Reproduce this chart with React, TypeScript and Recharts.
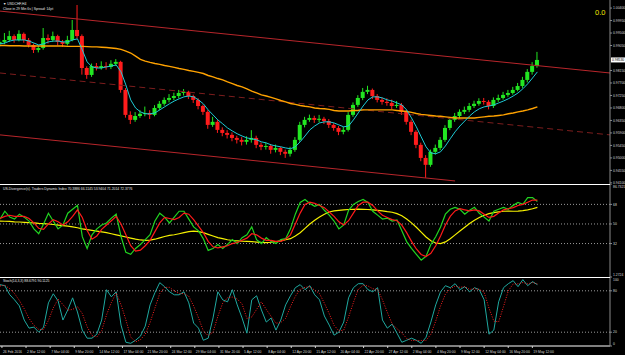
import { ComposedChart, Bar, Line, XAxis, YAxis, ReferenceLine } from "recharts";

// USDCHF H4 candles (one entry per drawn candle)
const firstOpen = 0.991;
const closes = [
  0.9918, 0.9925, 0.9939, 0.9925, 0.9947, 0.9925, 0.9907, 0.9889, 0.9896, 0.9932,
  0.9925, 0.9939, 0.9918, 0.9911, 0.9925, 0.9961, 0.9939, 0.9824, 0.9799, 0.9831,
  0.9824, 0.9831, 0.9828, 0.9839, 0.9846, 0.9745, 0.9655, 0.9637, 0.9651, 0.9659,
  0.9662, 0.9655, 0.968, 0.9695, 0.9709, 0.9716, 0.9723, 0.9734, 0.9738, 0.9723,
  0.9709, 0.9687, 0.9666, 0.9619, 0.963, 0.9601, 0.959, 0.9583, 0.9572, 0.9565,
  0.9558, 0.9565, 0.9572, 0.9547, 0.954, 0.9543, 0.9529, 0.9536, 0.9522, 0.9515,
  0.9529, 0.9565, 0.9619, 0.9637, 0.9644, 0.9637, 0.9641, 0.9633, 0.9619, 0.9608,
  0.9594, 0.9601, 0.9655, 0.9691, 0.9716, 0.9738, 0.9745, 0.9723, 0.9709, 0.9702,
  0.9698, 0.9687, 0.9691, 0.9666, 0.963, 0.9594, 0.9547, 0.95, 0.9475, 0.9522,
  0.9536, 0.9565, 0.9608, 0.9637, 0.9651, 0.9666, 0.9673, 0.9687, 0.9695, 0.9705,
  0.9702, 0.9687, 0.9709, 0.9716, 0.9727, 0.9734, 0.9745, 0.9759, 0.9781, 0.981,
  0.9831, 0.9853,
];
const highs = [
  0.993, 0.995, 0.9958, 0.9945, 0.996, 0.9952, 0.9932, 0.9912, 0.9905, 0.9968,
  0.9945, 0.9955, 0.9944, 0.9925, 0.994, 0.9997, 1.0051, 0.9945, 0.983, 0.984,
  0.9842, 0.9848, 0.9845, 0.9852, 0.9856, 0.985, 0.9752, 0.9668, 0.9665, 0.9672,
  0.9685, 0.9672, 0.969, 0.9705, 0.9718, 0.973, 0.9735, 0.9745, 0.9748, 0.9742,
  0.9728, 0.9715, 0.9692, 0.9672, 0.9648, 0.9636, 0.961, 0.96, 0.9592, 0.958,
  0.9575, 0.9578, 0.96, 0.958, 0.9556, 0.9555, 0.955, 0.9548, 0.954, 0.953,
  0.954, 0.9575, 0.963, 0.9648, 0.9656, 0.9652, 0.9655, 0.9648, 0.964, 0.9625,
  0.9615, 0.9612, 0.9665, 0.97, 0.9726, 0.9752, 0.976, 0.975, 0.973, 0.9718,
  0.9715, 0.971, 0.9705, 0.9698, 0.9672, 0.9638, 0.96, 0.9555, 0.951, 0.953,
  0.9548, 0.9575, 0.9618, 0.9646, 0.9662, 0.9675, 0.9685, 0.9698, 0.9706, 0.9715,
  0.9716, 0.9708, 0.9718, 0.9728, 0.9738, 0.9745, 0.9756, 0.977, 0.9792, 0.982,
  0.9845, 0.9882,
];
const lows = [
  0.99, 0.991, 0.9918, 0.9915, 0.992, 0.9915, 0.9898, 0.9878, 0.988, 0.989,
  0.9912, 0.9918, 0.9905, 0.99, 0.9905, 0.992, 0.993, 0.98, 0.9785, 0.9792,
  0.9815, 0.9818, 0.9818, 0.982, 0.9832, 0.9735, 0.9645, 0.9622, 0.963, 0.9644,
  0.965, 0.964, 0.965, 0.9672, 0.9688, 0.97, 0.9708, 0.9715, 0.9725, 0.9712,
  0.9698, 0.9675, 0.9655, 0.9605, 0.9612, 0.959, 0.9578, 0.957, 0.956, 0.9552,
  0.9545, 0.9548, 0.9555, 0.9535, 0.9528, 0.953, 0.9515, 0.952, 0.951, 0.95,
  0.9505, 0.9522, 0.9558, 0.961, 0.963, 0.9626, 0.9628, 0.9622, 0.9608, 0.9598,
  0.9582, 0.9585, 0.9595, 0.9648, 0.9684, 0.9708, 0.973, 0.9712, 0.97, 0.9692,
  0.9688, 0.9676, 0.968, 0.9655, 0.962, 0.9582, 0.9535, 0.9488, 0.9428, 0.9468,
  0.9512, 0.9528, 0.9558, 0.96, 0.963, 0.9642, 0.9658, 0.9665, 0.968, 0.9688,
  0.9692, 0.9675, 0.968, 0.9702, 0.971, 0.972, 0.9728, 0.974, 0.9752, 0.9772,
  0.98, 0.9825,
];
// cyan fast MA and orange slow MA
const fastMa = [
  0.9911, 0.9914, 0.9921, 0.9925, 0.9925, 0.9925, 0.9921, 0.9914, 0.9907, 0.9911,
  0.9918, 0.9921, 0.9921, 0.9918, 0.9918, 0.9925, 0.9929, 0.9889, 0.9846, 0.9828,
  0.9824, 0.9824, 0.9828, 0.9831, 0.9835, 0.981, 0.9763, 0.9709, 0.968, 0.9666,
  0.9659, 0.9659, 0.9662, 0.9673, 0.9684, 0.9695, 0.9705, 0.9713, 0.972, 0.9723,
  0.972, 0.9709, 0.9695, 0.9673, 0.9655, 0.9637, 0.9623, 0.9608, 0.9597, 0.9587,
  0.9579, 0.9572, 0.9569, 0.9565, 0.9558, 0.9554, 0.9547, 0.9543, 0.954, 0.9536,
  0.9533, 0.954, 0.9558, 0.9579, 0.9601, 0.9615, 0.9626, 0.963, 0.963, 0.9626,
  0.9619, 0.9612, 0.9615, 0.9637, 0.9662, 0.9687, 0.9709, 0.972, 0.972, 0.9716,
  0.9709, 0.9705, 0.9698, 0.9691, 0.9673, 0.9644, 0.9612, 0.9576, 0.954, 0.9518,
  0.9515, 0.9522, 0.9543, 0.9569, 0.9594, 0.9615, 0.9633, 0.9651, 0.9666, 0.9677,
  0.9684, 0.9687, 0.9691, 0.9698, 0.9705, 0.9713, 0.9723, 0.9734, 0.9749, 0.9767,
  0.9788, 0.981,
];
const slowMa = [
  0.9905, 0.9905, 0.9904, 0.9904, 0.9904, 0.9903, 0.9903, 0.9903, 0.9903, 0.9903,
  0.9903, 0.9903, 0.9903, 0.9903, 0.9902, 0.9902, 0.9902, 0.9902, 0.9901, 0.99,
  0.99, 0.9899, 0.9898, 0.9896, 0.9894, 0.9891, 0.9885, 0.9878, 0.9867, 0.9855,
  0.9849, 0.9844, 0.984, 0.9837, 0.9833, 0.983, 0.9826, 0.9822, 0.9819, 0.9815,
  0.9812, 0.9808, 0.9804, 0.9797, 0.9792, 0.9786, 0.9781, 0.9774, 0.9768, 0.9761,
  0.9756, 0.9749, 0.9741, 0.9734, 0.9727, 0.9723, 0.9718, 0.9713, 0.9707, 0.9702,
  0.9696, 0.9693, 0.9689, 0.9686, 0.9684, 0.968, 0.9678, 0.9677, 0.9675, 0.9671,
  0.9669, 0.9669, 0.9669, 0.9671, 0.9671, 0.9673, 0.9673, 0.9673, 0.9673, 0.9673,
  0.9673, 0.9673, 0.9671, 0.9669, 0.9667, 0.9664, 0.966, 0.9657, 0.9655, 0.9653,
  0.9651, 0.965, 0.9648, 0.9646, 0.9644, 0.9644, 0.9644, 0.9644, 0.9644, 0.9646,
  0.9648, 0.965, 0.9651, 0.9653, 0.9655, 0.9659, 0.9662, 0.9666, 0.9669, 0.9673,
  0.9678, 0.9684,
];
// Traders Dynamic Index: price line (green), signal (red), market base (yellow)
const tdiPrice = [
  54.5, 61.7, 56.3, 54.5, 59, 56.3, 52.7, 45.5, 41, 50,
  59.9, 52.7, 45.5, 49.1, 59.9, 63.5, 67.1, 38.3, 27.5, 40.1,
  45.5, 49.1, 50.9, 55.4, 59, 38.3, 23.9, 22.1, 27.5, 31.1,
  35.6, 40.1, 52.7, 59.9, 56.3, 50.9, 56.3, 61.7, 61.7, 54.5,
  47.3, 43.7, 36.5, 25.7, 27.5, 31.1, 27.5, 31.1, 35.6, 32,
  37.4, 40.1, 47.3, 35.6, 32, 37.4, 33.8, 32, 35.6, 36.5,
  45.5, 59, 69.8, 72.5, 68.9, 66.2, 68, 62.6, 58.1, 52.7,
  45.5, 49.1, 62.6, 68, 70.7, 72.5, 69.8, 61.7, 58.1, 54.5,
  55.4, 52.7, 53.6, 43.7, 33.8, 27.5, 22.1, 16.7, 20.3, 31.1,
  38.3, 47.3, 59, 63.5, 65.3, 63.5, 59, 62.6, 65.3, 59.9,
  56.3, 52.7, 61.7, 63.5, 65.3, 63.5, 67.1, 69.8, 68, 74.3,
  74.3, 70.7,
];
const tdiSignal = [
  55, 57, 58, 57, 57, 57, 55, 51, 46, 45,
  50, 54, 52, 49, 52, 57, 63, 56, 44, 36,
  39, 45, 49, 53, 57, 50, 40, 30, 25, 26,
  30, 35, 43, 51, 56, 55, 54, 56, 60, 59,
  54, 48, 42, 34, 29, 28, 29, 30, 32, 33,
  35, 37, 41, 40, 37, 35, 35, 34, 34, 36,
  40, 50, 60, 68, 70, 69, 67, 65, 61, 57,
  52, 49, 53, 60, 67, 70, 70, 67, 62, 58,
  56, 54, 53, 49, 42, 34, 27, 22, 20, 23,
  30, 39, 49, 57, 62, 64, 63, 62, 63, 62,
  59, 56, 57, 60, 63, 64, 65, 67, 68, 70,
  72, 72,
];
const tdiBase = [
  52.7, 52.5, 52.3, 52, 51.8, 51.5, 51.2, 51, 50.6, 50.3,
  50, 49.5, 49, 48.5, 48, 47.3, 46.5, 45.5, 44.8, 44.2,
  43.5, 42.8, 42, 41, 40, 39, 38, 37, 36, 35.3,
  35, 35.2, 36, 37.2, 38.5, 39.5, 40.1, 41, 42, 43,
  43.5, 43, 42, 40.5, 39, 37.5, 36.5, 35.5, 34.8, 34.5,
  34.2, 34, 33.7, 33.4, 33.1, 32.9, 33.2, 33.8, 34.5, 35.5,
  36.5, 39, 42, 46, 50, 53.5, 56.5, 59, 61, 62,
  62.5, 63, 63.3, 63.5, 63.6, 63.5, 63.3, 63, 62.5, 62,
  61.3, 60.8, 59.5, 57.5, 54.5, 51, 47, 42.5, 38, 34.5,
  32.5, 32, 33.5, 36.5, 40, 43.5, 47, 50.5, 53.5, 56,
  58, 59.5, 60.5, 61.2, 61.7, 61.8, 61.7, 61.8, 62.2, 63,
  64, 65.3,
];
// Stochastic(14,3,3): main and signal
const stochMain = [
  88.9, 87.4, 74.4, 66.9, 58.1, 37.6, 25.9, 27.4, 20.1, 27.4,
  62.5, 75.7, 65.4, 37.6, 52.3, 69.8, 49.3, 23, 11.3, 11.3,
  17.1, 37.6, 81.6, 71.3, 78.6, 30.3, 5.4, 3.9, 8.3, 14.2,
  28.8, 59.6, 77.2, 91.8, 86, 78.6, 74.2, 74.2, 78.6, 62.5,
  33.2, 25.9, 8.3, 11.3, 40.6, 78.6, 66.9, 64, 81.6, 59.6,
  40.6, 18.6, 66.9, 72.8, 52.3, 34.7, 40.6, 23, 37.6, 59.6,
  72.8, 84.5, 88.9, 81.6, 87.4, 74.2, 66.9, 43.5, 30.3, 15.7,
  20.1, 34.7, 69.8, 84.5, 90.3, 90.3, 81.6, 78.6, 84.5, 37.6,
  25.9, 31.7, 18.6, 5.4, 8.3, 11.3, 8.3, 3.9, 12.7, 34.7,
  59.6, 78.6, 87.4, 84.5, 90.3, 81.6, 86, 78.6, 84.5, 81.6,
  66.9, 17.1, 23, 64, 84.5, 90.3, 94.7, 86, 96.2, 87.4,
  93.3, 88.9,
];
const stochSignal = [
  87, 88, 83, 76, 66, 54, 40, 30, 24, 24,
  37, 55, 68, 60, 52, 53, 57, 47, 28, 15,
  13, 22, 45, 63, 77, 60, 38, 13, 6, 9,
  17, 34, 55, 76, 85, 85, 80, 76, 76, 72,
  58, 41, 22, 15, 20, 43, 62, 70, 71, 68,
  61, 40, 42, 53, 64, 53, 43, 33, 34, 40,
  57, 72, 82, 85, 86, 81, 76, 62, 47, 30,
  22, 23, 42, 63, 82, 88, 87, 83, 82, 67,
  49, 32, 25, 19, 11, 8, 8, 8, 8, 17,
  36, 58, 75, 83, 87, 85, 86, 82, 83, 82,
  78, 55, 36, 35, 57, 80, 90, 90, 92, 90,
  92, 90,
];

// regression channel ends (start at bar 0, top/middle end at the right edge)
const channelTop = [1.0029, 0.9806];
const channelMid = [0.9806, 0.9583];
const channelLow = [0.9583, 0.9417];

// price grid labels (the one under the current-price tag is hidden, as in MT4)
const priceTicks = [
  1.004, 0.9995, 0.995, 0.9905, 0.9815, 0.977, 0.9725,
  0.968, 0.9635, 0.959, 0.9545, 0.95, 0.9455, 0.941,
];
const tdiTicks = [1.2724, 32, 50, 68, 86.7321];
const stochTicks = [0, 20, 80, 100];
const timeLabels = [
  "26 Feb 2016", "2 Mar 12:00", "7 Mar 04:00", "9 Mar 20:00", "14 Mar 12:00",
  "17 Mar 04:00", "21 Mar 20:00", "24 Mar 12:00", "29 Mar 04:00", "31 Mar 20:00",
  "5 Apr 12:00", "8 Apr 04:00", "12 Apr 20:00", "15 Apr 12:00", "20 Apr 04:00",
  "22 Apr 20:00", "27 Apr 12:00", "2 May 04:00", "4 May 20:00", "9 May 12:00",
  "12 May 04:00", "16 May 20:00", "19 May 12:00",
];

const X_MAX = 126; // bars visible incl. right shift
const LABEL_STEP = 4.98; // bars between time labels
const timeTicks = timeLabels.map((_, i) => 0.4 + i * LABEL_STEP);

const rows = closes.map((c, i) => ({
  t: i,
  o: i === 0 ? firstOpen : closes[i - 1],
  c,
  h: highs[i],
  l: lows[i],
  range: [lows[i], highs[i]],
  fast: fastMa[i],
  slow: slowMa[i],
  rsi: tdiPrice[i],
  sig: tdiSignal[i],
  base: tdiBase[i],
  k: stochMain[i],
  d: stochSignal[i],
}));
const lastClose = closes[closes.length - 1];

const FONT = "Liberation Sans, Arial, sans-serif";
const noMargin = { top: 0, right: 0, bottom: 0, left: 0 };

function Candle(props: any) {
  const { x, y, width, height, payload } = props;
  if (x == null || y == null || !payload) return null;
  const { o, c, h, l } = payload;
  const k = height / (h - l || 1);
  const top = y + (h - Math.max(o, c)) * k;
  const bottom = y + (h - Math.min(o, c)) * k;
  const color = c >= o ? "#22e622" : "#ff1c1c";
  const cx = x + width / 2;
  return (
    <g>
      <line x1={cx} x2={cx} y1={y} y2={y + height} stroke={color} strokeWidth={1} />
      <rect x={x} y={top} width={width} height={Math.max(1, bottom - top)} fill={color} />
    </g>
  );
}

function PriceTag(props: any) {
  const vb = props.viewBox;
  if (!vb) return null;
  const x = vb.x + vb.width;
  return (
    <g>
      <rect x={x + 1} y={vb.y - 2.5} width={14} height={5} fill="#ffffff" />
      <text x={x + 2} y={vb.y + 1.2} fontSize={3.4} fill="#000" fontFamily={FONT}>
        {props.text}
      </text>
    </g>
  );
}

// right-axis label; labels sitting on a panel edge are nudged inside
function AxisLabel(props: any) {
  const { x, y, payload, fmt, top, bottom } = props;
  let dy = 1.2;
  if (top != null && payload.value === top) dy = 4;
  if (bottom != null && payload.value === bottom) dy = -1.5;
  return (
    <text x={x} y={y + dy} fontSize={3.4} fill="#d8d8d8" fontFamily={FONT}>
      {fmt ? fmt(payload.value) : String(payload.value)}
    </text>
  );
}

function TimeTick(props: any) {
  const { x, y, index } = props;
  return (
    <text x={x + 1} y={y + 3} fontSize={3.4} fill="#d8d8d8" fontFamily={FONT}>
      {timeLabels[index]}
    </text>
  );
}

const priceFmt = (v: number) => v.toFixed(5);
const levelFmt = (v: number) => (Number.isInteger(v) ? String(v) : v.toFixed(4));

function RightAxis(props: any) {
  return (
    <YAxis
      orientation="right"
      width={15}
      allowDataOverflow
      interval={0}
      axisLine={{ stroke: "#8a8a8a" }}
      tickLine={{ stroke: "#8a8a8a" }}
      tickSize={2}
      tickMargin={1}
      {...props}
    />
  );
}

export default function App() {
  return (
    <div style={{ position: "relative", width: 625, height: 355, background: "#000", overflow: "hidden" }}>
      <style>{"body{margin:0;background:#000}"}</style>

      {/* price panel */}
      <div style={{ position: "absolute", left: 0, top: 0 }}>
        <ComposedChart width={625} height={184} data={rows} margin={noMargin}>
          <XAxis type="number" dataKey="t" domain={[0, X_MAX]} hide allowDataOverflow />
          {RightAxis({ domain: [0.9406, 1.0069], ticks: priceTicks, tick: <AxisLabel fmt={priceFmt} /> })}
          <ReferenceLine
            segment={[{ x: 0, y: channelTop[0] }, { x: X_MAX, y: channelTop[1] }]}
            stroke="#b8262b"
            ifOverflow="visible"
          />
          <ReferenceLine
            segment={[{ x: 0, y: channelMid[0] }, { x: X_MAX, y: channelMid[1] }]}
            stroke="#7c1d1d"
            strokeDasharray="6 4"
            ifOverflow="visible"
          />
          <ReferenceLine
            segment={[{ x: 0, y: channelLow[0] }, { x: 94, y: channelLow[1] }]}
            stroke="#b8262b"
            ifOverflow="visible"
          />
          <Line dataKey="slow" stroke="#ffa200" strokeWidth={1.4} dot={false} activeDot={false} isAnimationActive={false} />
          <Bar dataKey="range" barSize={4} shape={<Candle />} isAnimationActive={false} />
          <Line dataKey="fast" stroke="#1ecbd6" strokeWidth={1} dot={false} activeDot={false} isAnimationActive={false} />
          <ReferenceLine y={lastClose} stroke="none" label={<PriceTag text={lastClose.toFixed(5)} />} />
        </ComposedChart>
      </div>

      {/* TDI panel */}
      <div style={{ position: "absolute", left: 0, top: 184 }}>
        <ComposedChart width={625} height={93} data={rows} margin={noMargin}>
          <XAxis type="number" dataKey="t" domain={[0, X_MAX]} hide allowDataOverflow />
          {RightAxis({
            domain: [1.2724, 86.7321],
            ticks: tdiTicks,
            tick: <AxisLabel fmt={levelFmt} top={86.7321} bottom={1.2724} />,
          })}
          {[68, 50, 32].map((v) => (
            <ReferenceLine key={v} y={v} stroke="#9a9a9a" strokeDasharray="1 2" />
          ))}
          <Line dataKey="base" stroke="#f5f000" strokeWidth={1.2} dot={false} activeDot={false} isAnimationActive={false} />
          <Line dataKey="rsi" stroke="#21d421" strokeWidth={1.2} dot={false} activeDot={false} isAnimationActive={false} />
          <Line dataKey="sig" stroke="#ff1a1a" strokeWidth={1.2} dot={false} activeDot={false} isAnimationActive={false} />
        </ComposedChart>
      </div>

      {/* Stochastic panel + time axis */}
      <div style={{ position: "absolute", left: 0, top: 277 }}>
        <ComposedChart width={625} height={78} data={rows} margin={noMargin}>
          <XAxis
            type="number"
            dataKey="t"
            domain={[0, X_MAX]}
            allowDataOverflow
            ticks={timeTicks}
            interval={0}
            height={9}
            axisLine={{ stroke: "#ffffff" }}
            tickLine={{ stroke: "#cfcfcf" }}
            tickSize={2}
            tick={<TimeTick />}
          />
          {RightAxis({ domain: [0, 100], ticks: stochTicks, tick: <AxisLabel top={100} bottom={0} /> })}
          {[80, 20].map((v) => (
            <ReferenceLine key={v} y={v} stroke="#9a9a9a" strokeDasharray="1 2" />
          ))}
          <Line dataKey="k" stroke="#1fa9a0" strokeWidth={1} dot={false} activeDot={false} isAnimationActive={false} />
          <Line dataKey="d" stroke="#ff2020" strokeWidth={1} strokeDasharray="1 1.5" dot={false} activeDot={false} isAnimationActive={false} />
        </ComposedChart>
      </div>

      {/* panel separators */}
      <div style={{ position: "absolute", left: 0, top: 184, width: 610, height: 1, background: "#fff" }} />
      <div style={{ position: "absolute", left: 0, top: 277, width: 610, height: 1, background: "#fff" }} />

      {/* window texts */}
      <svg width={625} height={355} style={{ position: "absolute", left: 0, top: 0, pointerEvents: "none" }}>
        <g fontFamily={FONT} fill="#e4e4e4" fontSize={3.4}>
          <text x={3} y={5}>▼ USDCHF,H4</text>
          <text x={3} y={9.5}>Close in 29 Min 6s | Spread: 14pt</text>
          <text x={3} y={190}>US-Divergence(s). Traders Dynamic Index 70.3886 66.1145 53.9404 71.2014 72.3776</text>
          <text x={3} y={282}>Stoch(14,3,3) 88.6791 90.1125</text>
        </g>
        <text x={595} y={15} fontSize={7.5} fill="#f2e600" fontFamily={FONT}>
          0.0
        </text>
      </svg>
    </div>
  );
}
